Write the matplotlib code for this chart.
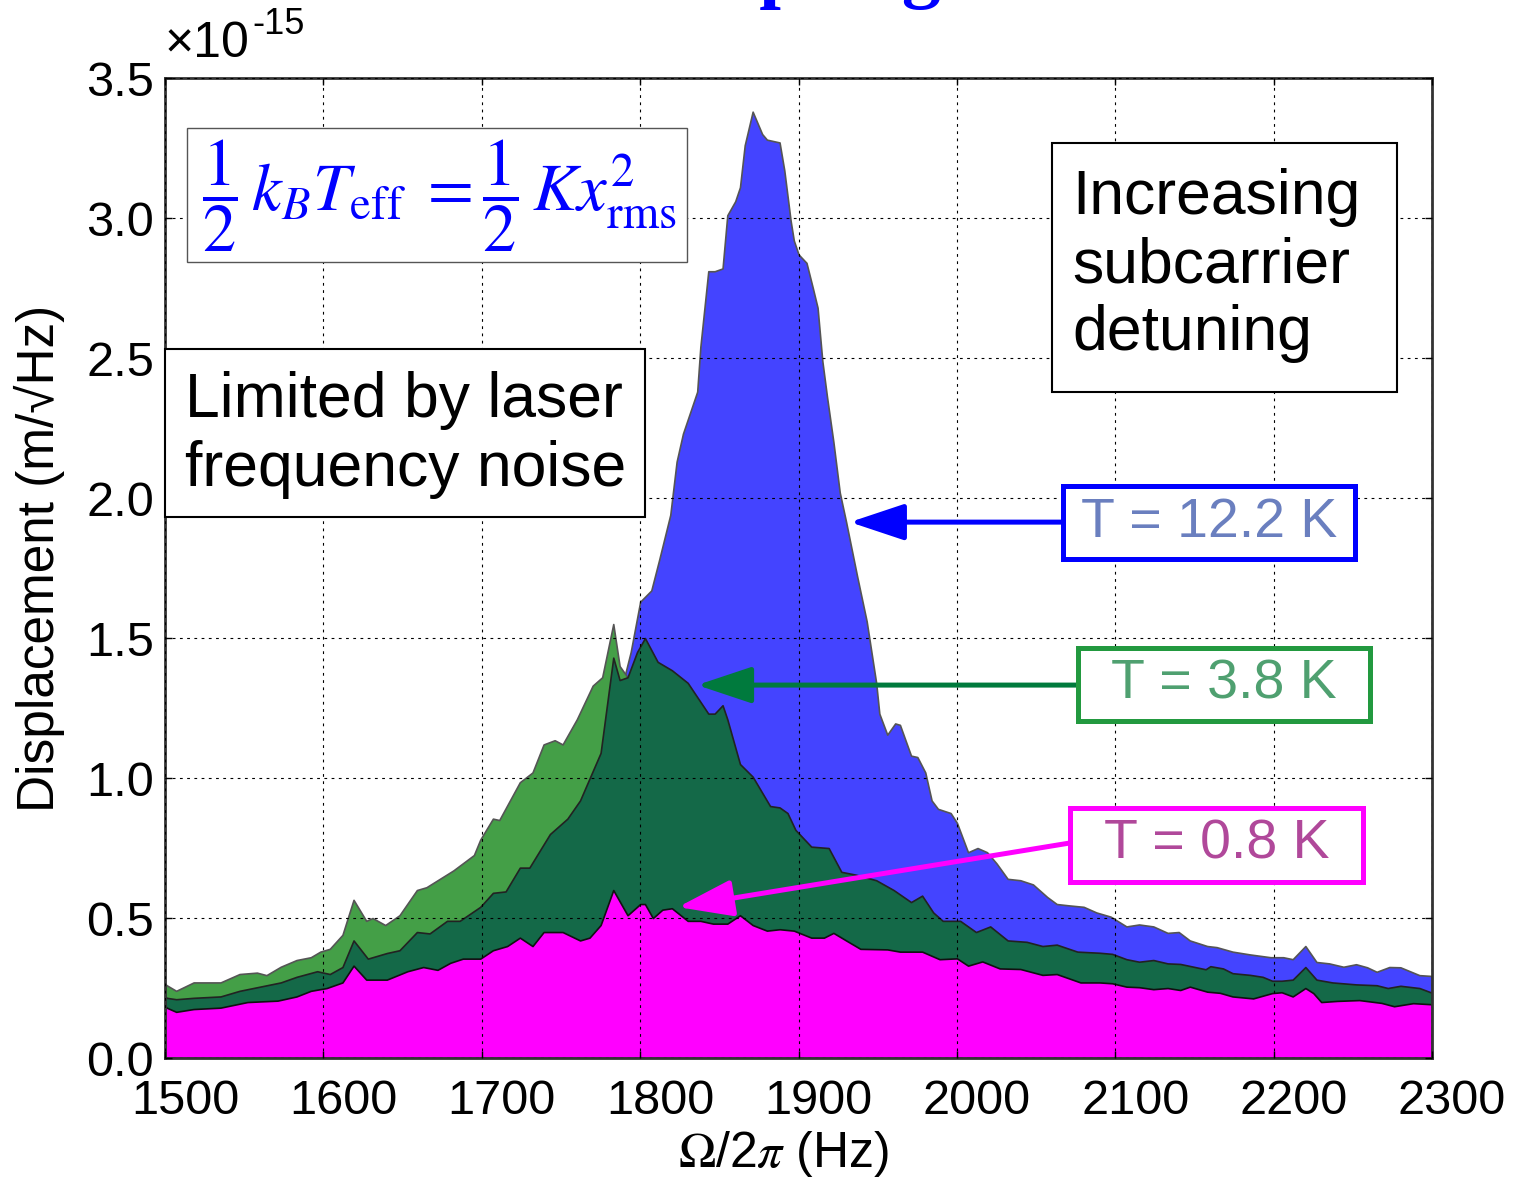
import matplotlib
matplotlib.use('Agg')
import matplotlib.pyplot as plt
from matplotlib.patches import Rectangle, FancyArrowPatch
from matplotlib.transforms import ScaledTranslation
import numpy as np

plt.rcParams['font.family'] = ['Liberation Sans', 'DejaVu Sans']
plt.rcParams['mathtext.fontset'] = 'stix'

# displacement spectra, units of 1e-15 m/rtHz
# T = 12.2 K (only the part above the other curves is visible)
f_hot = [1790, 1794, 1800, 1807, 1812, 1819, 1823, 1827, 1830, 1836, 1838, 1843,
         1847, 1852, 1855, 1860, 1863, 1866, 1871, 1877, 1880, 1888, 1891, 1895,
         1897, 1900, 1905, 1909, 1912, 1915, 1918, 1922, 1926, 1930, 1937, 1943,
         1949, 1951, 1956, 1961, 1964, 1971, 1975, 1980, 1984, 1988, 1996, 2000,
         2007, 2013, 2019, 2025, 2032, 2040, 2048, 2057, 2063, 2071, 2080, 2088,
         2097, 2107, 2115, 2124, 2133, 2140, 2147, 2158, 2164, 2174, 2185, 2198,
         2206, 2212, 2220, 2227, 2235, 2244, 2252, 2259, 2265, 2273, 2280, 2292, 2300]
v_hot = [1.36, 1.45, 1.63, 1.67, 1.78, 1.94, 2.13, 2.23, 2.28, 2.38, 2.54, 2.81,
         2.81, 2.82, 3.01, 3.06, 3.11, 3.26, 3.38, 3.30, 3.28, 3.27, 3.17, 2.99,
         2.92, 2.87, 2.84, 2.75, 2.68, 2.49, 2.36, 2.20, 2.02, 1.915, 1.72, 1.56,
         1.34, 1.23, 1.155, 1.195, 1.19, 1.08, 1.075, 1.02, 0.92, 0.89, 0.875, 0.84,
         0.735, 0.75, 0.735, 0.695, 0.64, 0.635, 0.62, 0.575, 0.55, 0.545, 0.54, 0.52,
         0.505, 0.47, 0.477, 0.47, 0.447, 0.45, 0.42, 0.40, 0.396, 0.38, 0.37, 0.36,
         0.36, 0.353, 0.40, 0.343, 0.338, 0.326, 0.335, 0.324, 0.308, 0.325, 0.324, 0.296, 0.293]

# light green trace (visible only below ~1790 Hz)
f_lg = [1500, 1501, 1507, 1518, 1535, 1547, 1558, 1564, 1573, 1583, 1592, 1598,
        1604, 1612, 1619, 1627, 1631, 1639, 1648, 1659, 1665, 1682, 1695, 1699,
        1707, 1711, 1724, 1732, 1739, 1746, 1751, 1760, 1770, 1776, 1783, 1787, 1792]
v_lg = [0.265, 0.26, 0.24, 0.27, 0.27, 0.30, 0.305, 0.296, 0.326, 0.35, 0.36, 0.38,
        0.39, 0.44, 0.565, 0.49, 0.50, 0.475, 0.51, 0.60, 0.61, 0.67, 0.725, 0.78,
        0.855, 0.85, 0.985, 1.02, 1.12, 1.135, 1.12, 1.21, 1.33, 1.36, 1.55, 1.40, 1.36]

# T = 3.8 K
f_mid = [1500, 1501, 1507, 1518, 1535, 1547, 1560, 1573, 1583, 1596, 1604, 1612,
         1619, 1628, 1640, 1648, 1659, 1667, 1678, 1686, 1699, 1707, 1715, 1724,
         1730, 1743, 1754, 1762, 1775, 1783, 1787, 1792, 1798, 1803, 1811, 1820,
         1830, 1843, 1847, 1852, 1855, 1863, 1871, 1882, 1888, 1893, 1898, 1908,
         1919, 1927, 1936, 1949, 1960, 1971, 1978, 1985, 1991, 2002, 2012, 2021,
         2032, 2044, 2054, 2063, 2076, 2090, 2098, 2107, 2115, 2124, 2133, 2141,
         2157, 2160, 2168, 2174, 2185, 2193, 2199, 2205, 2212, 2220, 2227, 2237,
         2252, 2265, 2272, 2280, 2292, 2300]
v_mid = [0.22, 0.215, 0.21, 0.215, 0.22, 0.24, 0.255, 0.27, 0.29, 0.31, 0.30, 0.325,
         0.42, 0.355, 0.375, 0.385, 0.45, 0.445, 0.49, 0.49, 0.54, 0.59, 0.595, 0.68,
         0.68, 0.80, 0.855, 0.92, 1.09, 1.43, 1.35, 1.36, 1.45, 1.50, 1.415, 1.385,
         1.34, 1.23, 1.23, 1.26, 1.21, 1.05, 1.005, 0.90, 0.895, 0.875, 0.815, 0.755,
         0.75, 0.665, 0.655, 0.635, 0.60, 0.557, 0.58, 0.52, 0.49, 0.49, 0.45, 0.47,
         0.42, 0.415, 0.40, 0.405, 0.38, 0.376, 0.372, 0.353, 0.344, 0.35, 0.338, 0.336,
         0.317, 0.328, 0.32, 0.303, 0.297, 0.29, 0.276, 0.276, 0.28, 0.325, 0.28, 0.27,
         0.263, 0.26, 0.25, 0.258, 0.25, 0.233]

# T = 0.8 K
f_cold = [1500, 1501, 1507, 1518, 1535, 1552, 1571, 1583, 1592, 1602, 1612, 1619,
          1627, 1640, 1653, 1663, 1672, 1680, 1688, 1699, 1707, 1716, 1724, 1732,
          1739, 1751, 1762, 1768, 1775, 1783, 1792, 1800, 1803, 1808, 1814, 1820,
          1830, 1838, 1846, 1855, 1863, 1871, 1880, 1888, 1897, 1908, 1916, 1922,
          1930, 1939, 1956, 1964, 1978, 1989, 2000, 2007, 2016, 2027, 2040, 2054,
          2063, 2078, 2090, 2098, 2107, 2115, 2124, 2133, 2141, 2147, 2158, 2166,
          2174, 2187, 2199, 2205, 2212, 2220, 2225, 2230, 2240, 2254, 2268, 2276,
          2288, 2300]
v_cold = [0.185, 0.18, 0.165, 0.175, 0.18, 0.20, 0.205, 0.22, 0.24, 0.25, 0.27, 0.33,
          0.28, 0.28, 0.31, 0.325, 0.315, 0.34, 0.355, 0.355, 0.385, 0.40, 0.43, 0.40,
          0.45, 0.45, 0.42, 0.43, 0.475, 0.60, 0.51, 0.55, 0.55, 0.50, 0.53, 0.535,
          0.49, 0.49, 0.48, 0.48, 0.51, 0.475, 0.455, 0.46, 0.455, 0.43, 0.43, 0.447,
          0.42, 0.39, 0.388, 0.38, 0.38, 0.353, 0.356, 0.33, 0.345, 0.32, 0.318, 0.297,
          0.30, 0.27, 0.27, 0.267, 0.255, 0.253, 0.246, 0.25, 0.243, 0.255, 0.237, 0.233,
          0.22, 0.213, 0.232, 0.235, 0.22, 0.25, 0.232, 0.20, 0.204, 0.207, 0.197, 0.185,
          0.196, 0.192]

x_ticks = [1500, 1600, 1700, 1800, 1900, 2000, 2100, 2200, 2300]
y_ticks = [0.0, 0.5, 1.0, 1.5, 2.0, 2.5, 3.0, 3.5]

fig = plt.figure(figsize=(15.13, 11.79), dpi=100)
ax = fig.add_axes([0.1091, 0.1026, 0.8374, 0.8312])

ax.fill_between(f_hot, 0, v_hot, facecolor='#4444ff', edgecolor='#555555', lw=1.2, zorder=1.1)
ax.fill_between(f_lg, 0, v_lg, facecolor='#449f47', edgecolor='#555555', lw=1.2, zorder=1.2)
ax.fill_between(f_mid, 0, v_mid, facecolor='#146948', edgecolor='#222222', lw=1.2, zorder=1.3)
ax.fill_between(f_cold, 0, v_cold, facecolor='#ff00ff', edgecolor='#111111', lw=1.2, zorder=1.4)

ax.set_xlim(1500, 2300)
ax.set_ylim(0, 3.5)
ax.set_xticks(x_ticks)
ax.set_yticks(y_ticks)
ax.set_yticklabels([f'{t:.1f}' for t in y_ticks])
ax.grid(True, color='k', linestyle=(0, (2.5, 4)), linewidth=0.8)
ax.set_axisbelow(False)
ax.tick_params(direction='in', length=5, width=1, top=True, right=True, labelsize=35)
ax.tick_params(axis='x', pad=15)
ax.tick_params(axis='y', pad=8)
# x tick labels sit a little right of their ticks in the original
shift = ScaledTranslation(0.2, 0, fig.dpi_scale_trans)
for lab in ax.get_xticklabels():
    lab.set_transform(lab.get_transform() + shift)
for s in ax.spines.values():
    s.set_linewidth(2)
    s.set_color('#333333')

ax.set_xlabel(r'$\Omega$/2$\pi$ (Hz)', fontsize=36)
ax.xaxis.set_label_coords(0.488, -0.072)
ax.set_ylabel('Displacement (m/\u221aHz)', fontsize=37)
ax.yaxis.set_label_coords(-0.079, 0.51)

# exponent label
fig.text(165 / 1513, 1 - 57 / 1179, '\u00d710', fontsize=36, va='baseline', ha='left')
fig.text(252 / 1513, 1 - 34 / 1179, '-15', fontsize=26, va='baseline', ha='left')

# title, mostly cut off
fig.text(0.474, 1.006, 'Spring', fontsize=56, fontweight='bold', color='#0000ff',
         family=['Liberation Serif', 'DejaVu Serif'], va='baseline', ha='left')

# formula box
ax.add_patch(Rectangle((1514, 2.843), 315.5, 0.478, facecolor='white',
                       edgecolor='#555555', lw=1, zorder=5))
ax.text(1673, 3.08, r'$\dfrac{1}{2}\,k_B T_{\rm eff}\;=\dfrac{1}{2}\,K x_{\rm rms}^2$',
        fontsize=48, color='#0000ff', ha='center', va='center', zorder=6)

# limited by laser noise box
ax.add_patch(Rectangle((1500, 1.932), 303, 0.600, facecolor='white',
                       edgecolor='black', lw=1.5, zorder=5, clip_on=False))
ax.text(1512.6, 2.225, 'Limited by laser\nfrequency noise', fontsize=45,
        ha='left', va='center', linespacing=1.2, zorder=6)

# increasing detuning box
ax.add_patch(Rectangle((2060, 2.379), 217.8, 0.889, facecolor='white',
                       edgecolor='black', lw=1.5, zorder=5))
ax.text(2072.6, 2.83, 'Increasing\nsubcarrier\ndetuning', fontsize=45,
        ha='left', va='center', linespacing=1.2, zorder=6)

# temperature labels with arrows
labels = ['T = 12.2 K', 'T = 3.8 K', 'T = 0.8 K']
box_xy = [(2066.9, 1.782), (2076.4, 1.204), (2071.3, 0.629)]
box_wh = [(184.4, 0.261), (184.3, 0.260), (185.0, 0.264)]
edge_cols = ['#0000ff', '#22993f', '#ff00ff']
text_cols = ['#6a7fbf', '#4fa070', '#b0489a']
line_cols = ['#0000ff', '#007a3d', '#ff00ff']
tails = [(2066.9, 1.914), (2076.4, 1.332), (2071.3, 0.768)]
tips = [(1932.4, 1.914), (1835.9, 1.332), (1823.9, 0.539)]

for lab, xy, wh, ec, tc, lc, tail, tip in zip(labels, box_xy, box_wh, edge_cols,
                                              text_cols, line_cols, tails, tips):
    ax.add_patch(Rectangle(xy, wh[0], wh[1], facecolor='white', edgecolor=ec,
                           lw=3.6, zorder=7))
    ax.text(xy[0] + wh[0] / 2, xy[1] + wh[1] / 2, lab, fontsize=40, color=tc,
            ha='center', va='center', zorder=8)
    arr = FancyArrowPatch(tail, tip, arrowstyle='-|>,head_length=0.42,head_width=0.14',
                          mutation_scale=80, color=lc, lw=3.6, shrinkA=0, shrinkB=0,
                          zorder=6)
    ax.add_patch(arr)

fig.savefig('out.png', dpi=100)
